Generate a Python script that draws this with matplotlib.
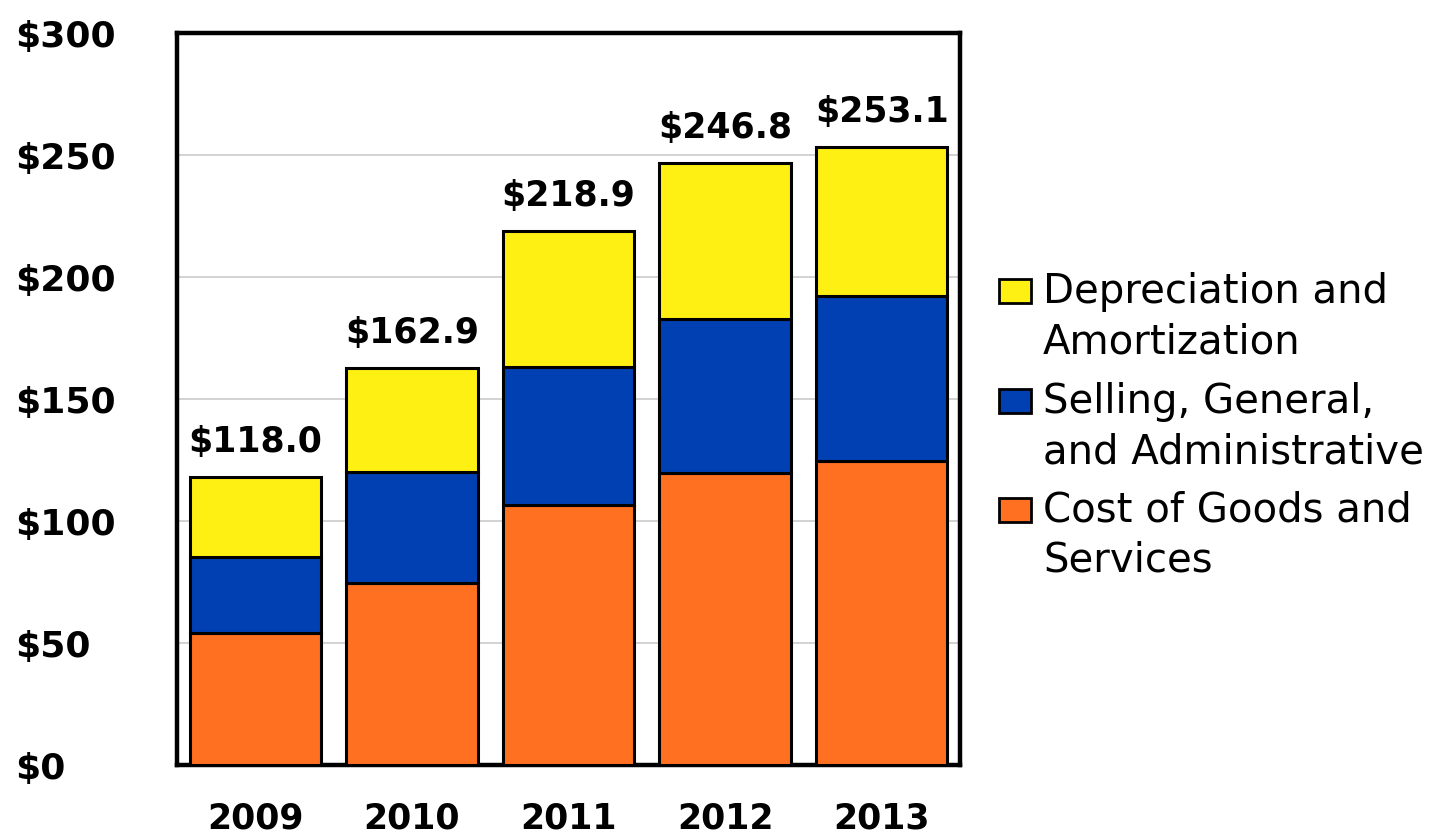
import matplotlib
matplotlib.use("Agg")
import matplotlib.pyplot as plt
from matplotlib.patches import Rectangle

years = ["2009", "2010", "2011", "2012", "2013"]
cost_goods = [54.0, 74.5, 106.4, 119.8, 124.6]
sga = [31.4, 45.7, 56.8, 62.9, 67.7]
totals = [118.0, 162.9, 218.9, 246.8, 253.1]
depreciation = [t - c - s for t, c, s in zip(totals, cost_goods, sga)]

yticks = [0, 50, 100, 150, 200, 250, 300]
ytick_labels = ["$0", "$50", "$100", "$150", "$200", "$250", "$300"]

legend_labels = ["Depreciation and\nAmortization",
                 "Selling, General,\nand Administrative",
                 "Cost of Goods and\nServices"]

ORANGE = "#FF7020"
BLUE = "#0040B2"
YELLOW = "#FFF014"
FONT = "DejaVu Sans"

W, H = 1442, 834
fig = plt.figure(figsize=(W / 100, H / 100), dpi=100)
ax = fig.add_axes([177 / W, 1 - 765 / H, (960 - 177) / W, (765 - 33) / H])

x = list(range(len(years)))
bw = 0.84
edge = dict(edgecolor="black", linewidth=2.2)
ax.bar(x, cost_goods, bw, color=ORANGE, zorder=3, **edge)
ax.bar(x, sga, bw, bottom=cost_goods, color=BLUE, zorder=3, **edge)
bottoms = [c + s for c, s in zip(cost_goods, sga)]
ax.bar(x, depreciation, bw, bottom=bottoms, color=YELLOW, zorder=3, **edge)

for xi, t in zip(x, totals):
    ax.annotate(f"${t:.1f}", (xi, t), xytext=(0, 18), textcoords="offset points",
                ha="center", va="baseline", fontsize=25, fontweight="bold",
                family=FONT)

ax.set_xlim(-0.5, 4.5)
ax.set_ylim(0, 300)
ax.set_yticks(yticks)
ax.set_yticklabels(ytick_labels, fontsize=26, fontweight="bold", family=FONT)
for lbl in ax.get_yticklabels():
    lbl.set_horizontalalignment("left")
ax.tick_params(axis="y", length=0, pad=(177 - 15) * 0.72)
ax.set_xticks(x)
ax.set_xticklabels(years, fontsize=25, fontweight="bold", family=FONT)
ax.tick_params(axis="x", length=0, pad=26)

ax.grid(axis="y", color="#CFCFCF", linewidth=1.3, zorder=0)
for sp in ax.spines.values():
    sp.set_linewidth(3.2)
    sp.set_color("black")

# legend drawn by hand: patch aligned with the first line of each label
legend_colors = [YELLOW, BLUE, ORANGE]
first_baselines = [303, 413, 522]
for col, lab, base in zip(legend_colors, legend_labels, first_baselines):
    fig.patches.append(Rectangle((999 / W, 1 - base / H), 32 / W, 24 / H,
                                 transform=fig.transFigure, facecolor=col,
                                 edgecolor="black", linewidth=2))
    first, second = lab.split("\n")
    fig.text(1043 / W, 1 - base / H, first, fontsize=29,
             family=FONT, va="baseline", ha="left")
    fig.text(1043 / W, 1 - (base + 50) / H, second, fontsize=29,
             family=FONT, va="baseline", ha="left")

fig.savefig("out.png", dpi=100)
